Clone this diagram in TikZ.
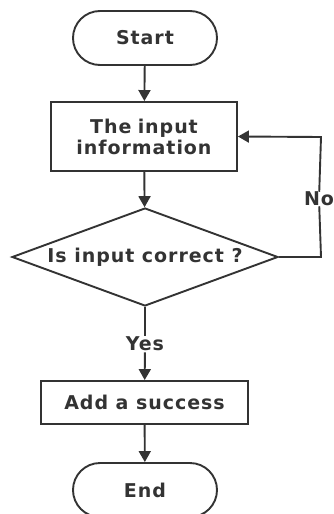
\documentclass[tikz,border=0pt]{standalone}
\usepackage{fontspec}
\setmainfont{DejaVu Sans}[LetterSpace=5]
\usetikzlibrary{shapes.geometric,arrows.meta}
\begin{document}
\begin{tikzpicture}[x=1pt,y=-1pt,
  every node/.style={font=\bfseries\fontsize{19}{21}\selectfont, text=black!80},
  flow/.style={draw=black!80, line width=1.9pt},
  term/.style={flow, rounded corners=27pt, minimum width=144pt, minimum height=54pt, inner sep=0pt},
  proc/.style={flow, minimum width=186pt, minimum height=69pt, inner sep=0pt, align=center},
  arr/.style={draw=black!80, line width=1.9pt, -{Triangle[length=11pt,width=12pt]}},
  lbl/.style={fill=white, inner sep=1pt}
]
\useasboundingbox (0,0) rectangle (333,514);
\clip (0,0) rectangle (333,514);

\node[term] (start) at (145,38) {Start};
\node[proc, text width=184pt] (input) at (144,136.5) {The input\\information};
\node[flow, diamond, aspect=2.7, minimum width=266pt, minimum height=98pt, inner sep=0pt] (check) at (145,257) {Is input correct ?};
\node[lbl] (yes) at (145,344) {Yes};
\node[proc, minimum width=207pt, minimum height=43pt] (add) at (144.5,402.5) {Add a success};
\node[term] (end) at (145,490) {End};

\coordinate (loopb) at (321,257);
\coordinate (loopt) at (321,137);
\node[lbl, inner sep=0pt] (no) at (319,199) {No};

\draw[arr] (start) -- (input);
\draw[arr] (input) -- (check);
\draw[flow] (check.south) -- (yes);
\draw[arr] (yes) -- (add);
\draw[arr] (add) -- (end);
\draw[flow] (check.east) -- (loopb) -- (no);
\draw[arr] (no) -- (loopt) -- (input.east);
\end{tikzpicture}
\end{document}
